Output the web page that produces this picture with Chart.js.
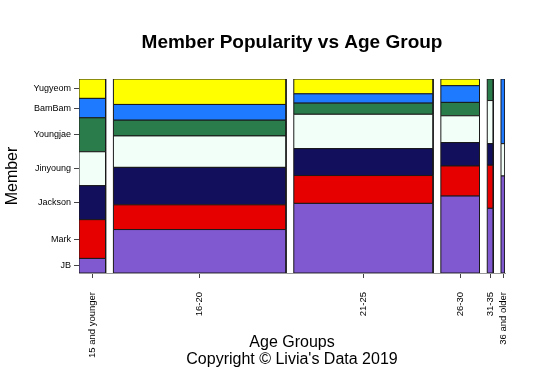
<!DOCTYPE html>
<html>
<head>
<meta charset="utf-8">
<script src="https://cdn.jsdelivr.net/npm/chart.js@4.4.1/dist/chart.umd.min.js"></script>
<style>
  html, body { margin: 0; padding: 0; background: #fff; }
  #wrap { width: 545px; height: 372px; }
</style>
</head>
<body>
<div id="wrap"><canvas id="mosaic"></canvas></div>
<script>
// ---- data (counts per age group, bottom to top by member) ----
const ageGroups = ["15 and younger", "16-20", "21-25", "26-30", "31-35", "36 and older"];
const members = ["JB", "Mark", "Jackson", "Jinyoung", "Youngjae", "BamBam", "Yugyeom"];
const jb       = [3, 58, 75, 23, 3, 3];
const mark     = [8, 33, 30, 9, 2, 0];
const jackson  = [7, 50, 29, 7, 1, 0];
const jinyoung = [7, 42, 37, 8, 2, 1];
const youngjae = [7, 21, 12, 4, 1, 0];
const bambam   = [4, 21, 10, 5, 0, 2];
const yugyeom  = [4, 34, 16, 2, 0, 0];
const memberColors = ["#8058d0", "#e60000", "#120f5c", "#f2fff8", "#2a7d4a", "#1e7bff", "#ffff00"];

const counts = [jb, mark, jackson, jinyoung, youngjae, bambam, yugyeom];
const GAP = 0.02;

// column totals and x spans
const colTotals = ageGroups.map((_, c) => counts.reduce((s, m) => s + m[c], 0));
const grand = colTotals.reduce((a, b) => a + b, 0);
const spans = [];
let acc = 0;
colTotals.forEach((t, c) => {
  const x0 = acc + c * GAP;
  const x1 = x0 + t / grand;
  spans.push([x0, x1]);
  acc += t / grand;
});
const xMax = acc + (ageGroups.length - 1) * GAP;

// one filled polygon per member per age group
const datasets = [];
ageGroups.forEach((_, c) => {
  let y = 0;
  counts.forEach((m, k) => {
    if (m[c] === 0) return;
    const y0 = y;
    const y1 = y + m[c] / colTotals[c];
    y = y1;
    const [x0, x1] = spans[c];
    datasets.push({
      label: members[k],
      data: [{ x: x0, y: y0 }, { x: x0, y: y1 }, { x: x1, y: y1 }, { x: x1, y: y0 }, { x: x0, y: y0 }],
      showLine: true,
      fill: "shape",
      backgroundColor: memberColors[k],
      borderColor: "#1a1a1a",
      borderWidth: 1,
      pointRadius: 0,
      tension: 0,
    });
  });
});

// tick positions: column centres and first-column segment midpoints
const xCenters = spans.map(([a, b]) => (a + b) / 2);
const yMids = [];
let cum = 0;
counts.forEach((m) => {
  const h = m[0] / colTotals[0];
  yMids.push(cum + h / 2);
  cum += h;
});

const font = "'Liberation Sans', Arial, Helvetica, sans-serif";

// centre the main title over the plot area rather than the whole canvas
const titleOverPlot = {
  id: "titleOverPlot",
  afterLayout(chart) {
    if (chart.titleBlock) {
      chart.titleBlock.left = chart.chartArea.left;
      chart.titleBlock.right = chart.chartArea.right;
    }
  },
};

new Chart(document.getElementById("mosaic"), {
  type: "scatter",
  data: { datasets },
  plugins: [titleOverPlot],
  options: {
    responsive: true,
    maintainAspectRatio: false,
    animation: false,
    events: [],
    layout: { padding: { left: 0, right: 40, top: 0, bottom: 0 } },
    plugins: {
      legend: { display: false },
      tooltip: { enabled: false },
      title: {
        display: true,
        text: "Member Popularity vs Age Group",
        color: "#000",
        font: { family: font, size: 19, weight: "bold", lineHeight: 1.2 },
        padding: { top: 31.6, bottom: 24.6 },
      },
    },
    scales: {
      x: {
        type: "linear",
        min: 0,
        max: xMax,
        afterFit: (axis) => { axis.height = 99; },
        afterBuildTicks: (axis) => { axis.ticks = xCenters.map((v) => ({ value: v })); },
        grid: { drawOnChartArea: false, tickLength: 5, color: "#444" },
        border: { display: true, color: "#999" },
        ticks: {
          autoSkip: false,
          minRotation: 90,
          maxRotation: 90,
          padding: 14,
          color: "#000",
          font: { family: font, size: 9.5 },
          callback: (v, i) => ageGroups[i],
        },
        title: {
          display: true,
          text: ["Age Groups", "Copyright \u00A9 Livia's Data 2019"],
          color: "#000",
          font: { family: font, size: 16, lineHeight: 1.0625 },
          padding: { top: 0, bottom: 3.5 },
        },
      },
      y: {
        type: "linear",
        min: 0,
        max: 1,
        afterFit: (axis) => { axis.width = 79; },
        afterBuildTicks: (axis) => { axis.ticks = yMids.map((v) => ({ value: v })); },
        grid: { drawOnChartArea: false, tickLength: 5, color: "#444" },
        border: { display: false },
        ticks: {
          autoSkip: false,
          padding: 3,
          color: "#000",
          font: { family: font, size: 9 },
          callback: (v, i) => members[i],
        },
        title: {
          display: true,
          text: "Member",
          color: "#000",
          font: { family: font, size: 16, lineHeight: 1.2 },
          padding: { top: 3.4, bottom: 0 },
        },
      },
    },
  },
});
</script>
</body>
</html>
